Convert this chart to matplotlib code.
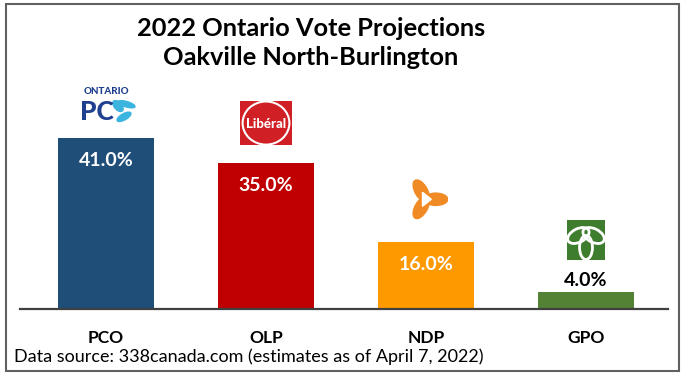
import numpy as np
import matplotlib.pyplot as plt
from matplotlib.patches import Rectangle, Circle, Ellipse, Polygon

parties = ["PCO", "OLP", "NDP", "GPO"]
votes = [41.0, 35.0, 16.0, 4.0]
colors = ["#1F4E79", "#C00000", "#FF9900", "#548235"]
title = "2022 Ontario Vote Projections\nOakville North-Burlington"
source = "Data source: 338canada.com (estimates as of April 7, 2022)"

plt.rcParams['font.family'] = ['Lato', 'DejaVu Sans']

W, H = 685, 377
fig = plt.figure(figsize=(W / 100, H / 100), dpi=100)

# axes placed in pixels: baseline at y=309, x from 20 to 668
ax = fig.add_axes([20 / W, 1 - 309 / H, 648 / W, 200 / H])
ymax = 200 / 4.17
ax.set_ylim(0, ymax)
ax.set_xlim(-86 / 160, 3 + 82 / 160)

ax.bar(range(len(parties)), votes, width=0.6, color=colors)
for s in ["top", "right", "left"]:
    ax.spines[s].set_visible(False)
ax.spines["bottom"].set_color("#404040")
ax.spines["bottom"].set_linewidth(1.6)
ax.set_yticks([])
ax.set_xticks(range(len(parties)))
ax.set_xticklabels(parties, fontsize=12.5, fontweight="bold")
ax.tick_params(axis="x", length=0, pad=15)

px = ymax / 200  # data units per pixel
for i, v in enumerate(votes):
    if v > 10:
        ax.text(i, v - 22 * px, f"{v:.1f}%", ha="center", va="center",
                color="white", fontsize=14, fontweight="bold")
    else:
        ax.text(i, v + 12 * px, f"{v:.1f}%", ha="center", va="center",
                color="black", fontsize=14, fontweight="bold")

fig.text(311 / W, 1 - 43 / H, title, ha="center", va="center",
         fontsize=18.3, fontweight="bold", linespacing=1.3)
fig.text(14 / W, 1 - 357 / H, source, ha="left", va="center", fontsize=13)

# frame around the whole picture
fig.patches.append(Rectangle((6 / W, 6 / H), 673 / W, 367 / H, transform=fig.transFigure,
                             fill=False, edgecolor="#606060", linewidth=1.5))


def logo_axes(i, v, dy, w, h):
    fig.canvas.draw()
    x, y = ax.transData.transform((i, v + dy * px))
    la = fig.add_axes([(x - w / 2) / W, (y - h / 2) / H, w / W, h / H])
    la.set_xlim(0, 1)
    la.set_ylim(0, 1)
    la.axis("off")
    return la


# PC logo
la = logo_axes(0, votes[0], 32, 60, 36)
la.text(0.5, 0.9, "ONTARIO", ha="center", va="center", fontsize=7,
        fontweight="black", color="#1F3F8F")
la.text(0.34, 0.33, "PC", ha="center", va="center", fontsize=19,
        fontweight="black", color="#1F3F8F")
for cx, cy, ang in [(0.7, 0.5, 20), (0.8, 0.2, -40), (0.84, 0.55, 60)]:
    la.add_patch(Ellipse((cx, cy), 0.14, 0.32, angle=ang, color="#3CB4E0"))

# Liberal logo
la = logo_axes(1, votes[1], 40, 52, 44)
la.add_patch(Rectangle((0, 0), 1, 1, color="#D01F25"))
la.add_patch(Ellipse((0.5, 0.5), 0.9, 0.98, fill=False, edgecolor="white", linewidth=1.5))
la.text(0.5, 0.48, "Libéral", ha="center", va="center", fontsize=9.5,
        fontweight="black", color="white")

# NDP logo
la = logo_axes(2, votes[2], 43, 44, 44)
for ang in [120, 240, 0]:
    a = np.deg2rad(ang)
    la.add_patch(Ellipse((0.5 + 0.22 * np.cos(a), 0.5 + 0.22 * np.sin(a)), 0.28, 0.55,
                         angle=ang - 90, color="#F08A24"))
la.add_patch(Polygon([[0.62, 0.5], [0.42, 0.66], [0.42, 0.34]], color="white"))

# Green logo
la = logo_axes(3, votes[3], 52, 38, 40)
la.add_patch(Rectangle((0, 0), 1, 1, color="#3F7D2E"))
for cx, cy, ang in [(0.3, 0.62, 25), (0.7, 0.62, -25), (0.5, 0.32, 90)]:
    la.add_patch(Ellipse((cx, cy), 0.6, 0.34, angle=ang, fill=False,
                         edgecolor="white", linewidth=2))

fig.savefig("out.png", dpi=100)
